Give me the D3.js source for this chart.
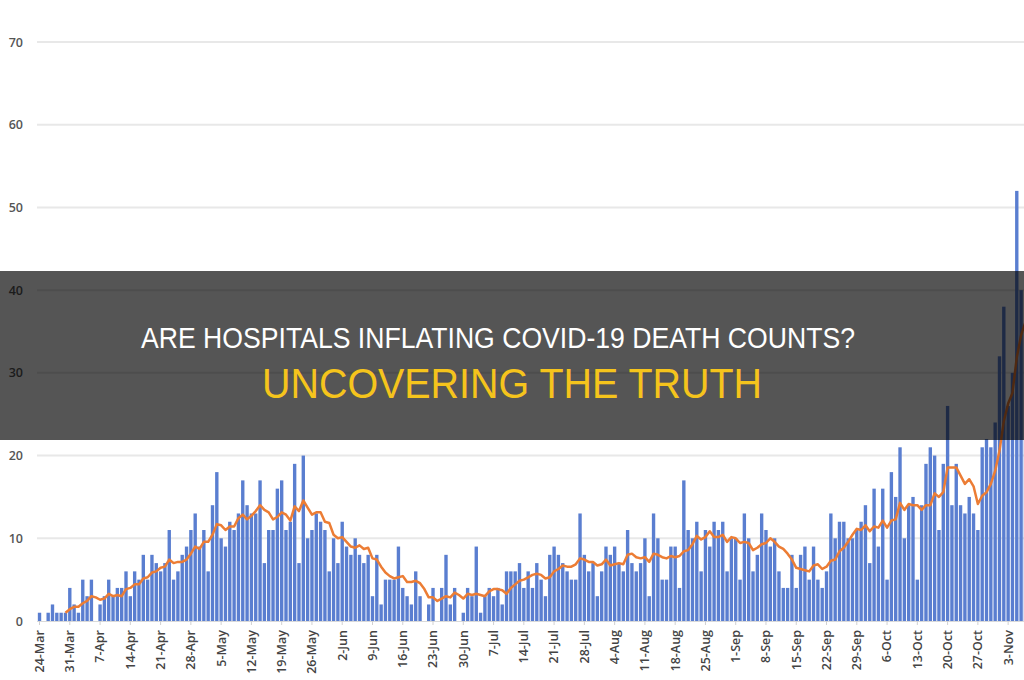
<!DOCTYPE html>
<html>
<head>
<meta charset="utf-8">
<script src="https://cdn.jsdelivr.net/npm/d3@7"></script>
<style>
  html, body { margin: 0; padding: 0; background: #fff; }
  svg { display: block; }
</style>
</head>
<body>
<div id="chart"></div>
<script>
// daily deaths, one value per day starting 24-Mar
var startDate = new Date(2020, 2, 24)
var deaths = [
  1, 0, 1, 2, 1, 1, 1, 4, 2, 1, 5, 3, 5, 0, 2, 3, 5, 3, 4, 4, 6,
  3, 6, 5, 8, 5, 8, 7, 6, 7, 11, 5, 6, 8, 9, 11, 13,
  9, 11, 6, 14, 18, 10, 9, 12, 11, 13, 17, 14, 13, 13, 17, 7, 11, 11, 16, 17, 11,
  12, 19, 7, 20, 10, 11, 13, 12, 11, 6, 10, 7, 12, 9, 8, 10, 8, 7,
  8, 3, 8, 2, 5, 5, 5, 9, 4, 3, 2, 6, 3, 0, 2, 4, 0, 4, 8, 2, 4,
  0, 1, 4, 3, 9, 1, 3, 4, 3, 4, 2, 6, 6, 6, 7, 4, 6,
  4, 7, 5, 3, 8, 9, 8, 7, 6, 5, 5, 13, 8, 6, 7, 3, 6, 9, 8, 9, 7,
  6, 11, 7, 6, 7, 10, 3, 13, 10, 5, 5, 9, 9, 4, 17, 11, 10,
  12, 6, 11, 9, 12, 11, 12, 6, 10, 10, 5, 13, 10, 6, 8, 13, 11, 9, 10, 6, 4,
  4, 8, 4, 8, 9, 5, 9, 5, 4, 6, 13, 10, 12, 12, 10, 10, 11, 12,
  14, 7, 16, 9, 16, 5, 18, 15, 21, 10, 14, 15, 5, 14, 19, 21, 20, 11, 19, 26, 14,
  19, 14, 13, 15, 13, 11, 21, 22, 21, 24, 32, 38, 26, 30, 52, 40, 35
]
var tickLabels = ['24-Mar', '31-Mar', '7-Apr', '14-Apr', '21-Apr', '28-Apr', '5-May',
  '12-May', '19-May', '26-May', '2-Jun', '9-Jun', '16-Jun', '23-Jun', '30-Jun',
  '7-Jul', '14-Jul', '21-Jul', '28-Jul', '4-Aug', '11-Aug', '18-Aug', '25-Aug',
  '1-Sep', '8-Sep', '15-Sep', '22-Sep', '29-Sep', '6-Oct', '13-Oct', '20-Oct',
  '27-Oct', '3-Nov']
var yTicks = [0, 10, 20, 30, 40, 50, 60, 70]
var titleLine1 = 'ARE HOSPITALS INFLATING COVID-19 DEATH COUNTS?'
var titleLine2 = 'UNCOVERING THE TRUTH'
var maWindow = 7

var width = 1024
var height = 680
var fmt = d3.timeFormat('%-d-%b')

var days = deaths.map((d, i) => ({ date: d3.timeDay.offset(startDate, i), value: d, i: i }))

var svg = d3.select('#chart')
  .append('svg')
  .attr('width', width)
  .attr('height', height)

var step = 4.32
var x = d3.scaleBand()
  .domain(days.map(d => d.i))
  .range([40 - step / 2, 40 - step / 2 + step * days.length])
  .paddingInner(0.22)
  .paddingOuter(0)

var y = d3.scaleLinear()
  .domain([0, 70])
  .range([621, 42])

// gridlines
svg.append('g')
  .selectAll('line')
  .data(yTicks.filter(t => t > 0))
  .enter()
  .append('line')
  .attr('x1', 37)
  .attr('x2', width)
  .attr('y1', d => y(d))
  .attr('y2', d => y(d))
  .attr('stroke', '#e8e8e8')
  .attr('stroke-width', 2)

// y axis labels
var yAxis = d3.axisLeft(y).tickValues(yTicks).tickSize(0).tickPadding(0)
svg.append('g')
  .attr('transform', 'translate(23,0)')
  .call(yAxis)
  .call(g => g.select('.domain').remove())
  .selectAll('text')
  .attr('fill', '#555')
  .style('font-family', '"Open Sans", sans-serif')
  .style('font-weight', '600')
  .style('font-size', '12.5px')

// bars
svg.append('g')
  .selectAll('rect')
  .data(days)
  .enter()
  .append('rect')
  .attr('x', d => x(d.i))
  .attr('width', x.bandwidth())
  .attr('y', d => y(d.value))
  .attr('height', d => y(0) - y(d.value))
  .attr('fill', '#5a7ed0')

// 7 day moving average trendline (as in the source chart)
var ma = days.slice(maWindow - 1).map(d => ({
  i: d.i,
  value: d3.mean(deaths.slice(d.i - maWindow + 1, d.i + 1))
}))
var line = d3.line()
  .x(d => x(d.i) + x.bandwidth() / 2)
  .y(d => y(d.value))
svg.append('path')
  .datum(ma)
  .attr('d', line)
  .attr('fill', 'none')
  .attr('stroke', '#ec7d35')
  .attr('stroke-width', 2.5)
  .attr('stroke-linejoin', 'round')

// x axis
svg.append('line')
  .attr('x1', 37)
  .attr('x2', width)
  .attr('y1', y(0) + 0.5)
  .attr('y2', y(0) + 0.5)
  .attr('stroke', '#d9d9d9')

var tickDays = days.filter(d => tickLabels.indexOf(fmt(d.date)) >= 0)
var xt = svg.append('g')
  .selectAll('g')
  .data(tickDays)
  .enter()
  .append('g')
  .attr('transform', d => 'translate(' + (x(d.i) + x.bandwidth() / 2) + ',' + y(0) + ')')
xt.append('line')
  .attr('y1', 0)
  .attr('y2', 4)
  .attr('stroke', '#d0d0d0')
xt.append('text')
  .attr('transform', 'rotate(-90)')
  .attr('x', -9)
  .attr('dy', '0.35em')
  .attr('text-anchor', 'end')
  .attr('fill', '#444')
  .style('font-family', '"Open Sans", sans-serif')
  .style('font-weight', '600')
  .style('font-size', '12.5px')
  .text(d => fmt(d.date))

// title band over the chart
svg.append('rect')
  .attr('x', 0)
  .attr('y', 271)
  .attr('width', width)
  .attr('height', 169)
  .attr('fill', '#000')
  .attr('fill-opacity', 0.665)

svg.append('text')
  .attr('x', 498)
  .attr('y', 348)
  .attr('text-anchor', 'middle')
  .attr('fill', '#fff')
  .attr('textLength', 714)
  .attr('lengthAdjust', 'spacingAndGlyphs')
  .style('font-family', '"Liberation Sans Narrow", "Liberation Sans", sans-serif')
  .style('font-size', '29px')
  .text(titleLine1)

svg.append('text')
  .attr('x', 512)
  .attr('y', 398)
  .attr('text-anchor', 'middle')
  .attr('fill', '#f5c41c')
  .attr('textLength', 500)
  .attr('lengthAdjust', 'spacingAndGlyphs')
  .style('font-family', '"Liberation Sans Narrow", "Liberation Sans", sans-serif')
  .style('font-size', '43px')
  .text(titleLine2)
</script>
</body>
</html>
